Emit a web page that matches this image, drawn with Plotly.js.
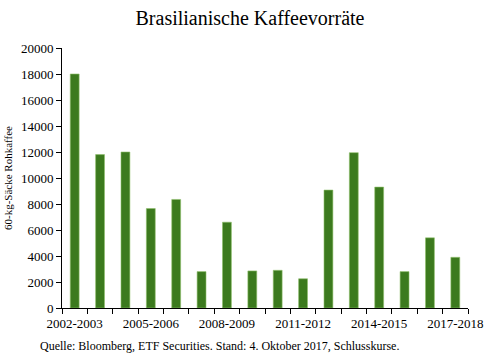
<!DOCTYPE html>
<html><head><meta charset="utf-8">
<script src="https://cdn.plot.ly/plotly-3.0.1.min.js"></script>
<style>body{margin:0;padding:0;background:#fff}#c{width:500px;height:353px}</style>
</head><body><div id="c"></div>
<script>
const seasons = ["2002-2003","2003-2004","2004-2005","2005-2006","2006-2007","2007-2008","2008-2009","2009-2010","2010-2011","2011-2012","2012-2013","2013-2014","2014-2015","2015-2016","2016-2017","2017-2018"];
const stocks = [18000,11800,12000,7650,8350,2800,6600,2850,2900,2250,9070,11950,9300,2800,5400,3900];
const shownLabels = ["2002-2003","2005-2006","2008-2009","2011-2012","2014-2015","2017-2018"];
const yTicks = [0,2000,4000,6000,8000,10000,12000,14000,16000,18000,20000];

const font = "Liberation Serif, DejaVu Serif, serif";
Plotly.newPlot('c', [{
  type: 'bar', x: seasons, y: stocks,
  marker: {color: '#3c7a1e', line: {color: '#8fbf6a', width: 0.6}},
  hoverinfo: 'none'
}], {
  width: 500, height: 353,
  margin: {l: 62, r: 32, t: 48, b: 45},
  paper_bgcolor: '#fff', plot_bgcolor: '#fff',
  bargap: 0.65,
  font: {family: font, color: '#000'},
  title: {text: 'Brasilianische Kaffeevorräte', x: 0.5, xanchor: 'center', y: 0.95, yanchor: 'middle', font: {size: 20, family: font, color: '#000'}},
  xaxis: {
    type: 'category', tickson: 'boundaries', ticks: 'outside', ticklen: 5, tickcolor: '#000',
    tickvals: seasons, ticktext: seasons.map(s => shownLabels.includes(s) ? s : ''),
    tickangle: 0, tickfont: {size: 13, family: font}, ticklabelstandoff: 3,
    showline: true, linecolor: '#000', linewidth: 1, showgrid: false, zeroline: false,
    range: [-0.5, 15.5]
  },
  yaxis: {
    range: [0, 20000], tickvals: yTicks, ticktext: yTicks.map(String),
    ticks: 'outside', ticklen: 5, tickcolor: '#000', tickfont: {size: 13, family: font},
    showline: true, linecolor: '#000', linewidth: 1, showgrid: false, zeroline: false,
    title: {text: '60-kg-Säcke Rohkaffee', font: {size: 11, family: font}, standoff: 6}
  },
  annotations: [{
    text: 'Quelle: Bloomberg, ETF Securities. Stand: 4. Oktober 2017, Schlusskurse.',
    xref: 'paper', yref: 'paper', x: -0.059, y: -0.11, xanchor: 'left', yanchor: 'top',
    showarrow: false, font: {size: 12, family: font, color: '#000'}
  }],
  showlegend: false
}, {displayModeBar: false, staticPlot: true});
</script></body></html>
